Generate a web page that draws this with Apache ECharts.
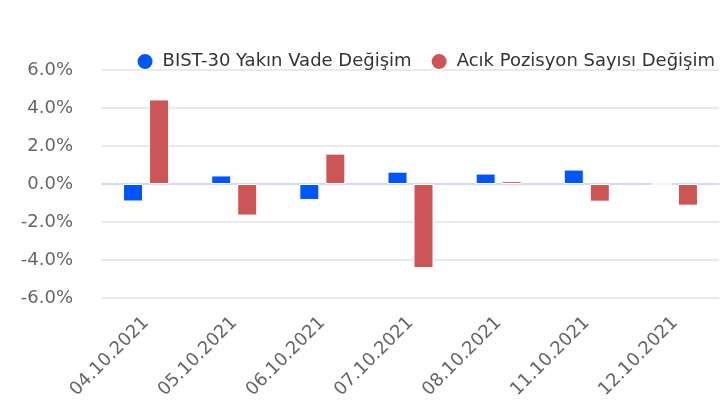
<!DOCTYPE html>
<html>
<head>
    <meta charset="UTF-8">
    <title>BIST-30 Değişim</title>
    <script src="https://cdn.jsdelivr.net/npm/echarts@6/dist/echarts.min.js"></script>
    <style>
        body { margin: 0; background: #fff; }
        #chart { width: 720px; height: 405px; }
    </style>
</head>
<body>
    <div id="chart"></div>
    <script>
    // data
    const dates = ['04.10.2021', '05.10.2021', '06.10.2021', '07.10.2021', '08.10.2021', '11.10.2021', '12.10.2021'];
    const vadeDegisim = [-0.92, 0.45, -0.84, 0.65, 0.55, 0.76, 0];
    const pozisyonDegisim = [4.45, -1.66, 1.6, -4.42, 0.15, -0.93, -1.14];
    const yTicks = { min: -6, max: 6, step: 2 };

    const chart = echarts.init(document.getElementById('chart'));
    const font = 'DejaVu Sans';

    chart.setOption({
        animation: false,
        textStyle: { fontFamily: font },
        legend: {
            right: 0,
            top: 47,
            icon: 'circle',
            itemWidth: 25,
            itemHeight: 17,
            itemGap: 18,
            textStyle: { color: '#333', fontSize: 18, fontFamily: font }
        },
        grid: { left: 102, right: 1, top: 70, bottom: 107 },
        xAxis: {
            type: 'category',
            data: dates,
            axisLine: { lineStyle: { color: '#ccd6eb', width: 1.5 } },
            axisTick: { length: 18, lineStyle: { color: '#ccd6eb', width: 1.5 } },
            axisLabel: { rotate: 45, color: '#666', fontSize: 18, margin: 22, fontFamily: font }
        },
        yAxis: {
            type: 'value',
            min: yTicks.min,
            max: yTicks.max,
            interval: yTicks.step,
            axisLine: { show: false },
            axisTick: { show: false },
            splitLine: { lineStyle: { color: '#e3e3e3', width: 1.5 } },
            axisLabel: {
                color: '#666', fontSize: 18, margin: 29, fontFamily: font,
                formatter: v => v.toFixed(1) + '%'
            }
        },
        series: [
            {
                name: 'BIST-30 Yakın Vade Değişim',
                type: 'bar',
                data: vadeDegisim,
                barWidth: 20,
                barGap: '30%',
                itemStyle: { color: '#0055ff', borderColor: '#fff', borderWidth: 1 }
            },
            {
                name: 'Acık Pozisyon Sayısı Değişim',
                type: 'bar',
                data: pozisyonDegisim,
                barWidth: 20,
                itemStyle: { color: '#cc5555', borderColor: '#fff', borderWidth: 1 }
            }
        ]
    });
    </script>
</body>
</html>
